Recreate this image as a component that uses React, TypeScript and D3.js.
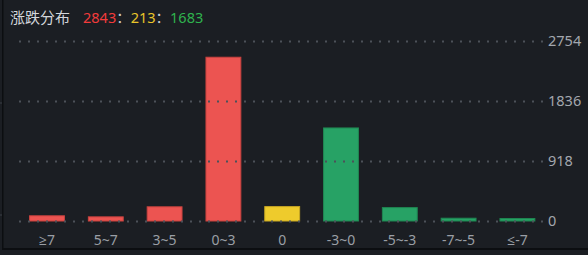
import React from "react";
import * as d3 from "d3";

const categories = ["≥7", "5~7", "3~5", "0~3", "0", "-3~0", "-5~-3", "-7~-5", "≤-7"];
const counts = [72, 56, 210, 2505, 213, 1420, 198, 35, 30];
const barKinds = ["up", "up", "up", "up", "flat", "down", "down", "down", "down"];
const yTicks = [0, 918, 1836, 2754];
const summaryUp = 2843;
const summaryFlat = 213;
const summaryDown = 1683;

const W = 588;
const H = 255;
const BG = "#1b1e23";
const fills: Record<string, string> = { up: "#ec5451", flat: "#eecb2c", down: "#27a265" };
const strokes: Record<string, string> = { up: "#c9433f", flat: "#c9a823", down: "#1f8752" };
const LATIN = "'Noto Sans', 'Open Sans', sans-serif";

export default function App() {
  const x = d3.scaleBand<string>().domain(categories).range([17.6, 546.8]).paddingInner(0.39).paddingOuter(0.195);
  const y = d3.scaleLinear().domain([0, 2754]).range([220.5, 41]);
  const bw = x.bandwidth();

  return (
    <svg
      width={W}
      height={H}
      style={{ position: "absolute", left: 0, top: 0, display: "block" }}
      fontFamily="'Noto Sans CJK SC', 'Noto Sans', sans-serif"
    >
      <rect x={0} y={0} width={W} height={H} fill={BG} />
      {/* frame edges */}
      <rect x={2} y={0} width={1.5} height={250} fill="#0c0e11" />
      <rect x={2} y={248} width={W - 2} height={2} fill="#0c0e11" />
      <rect x={0} y={102.5} width={2} height={1} fill="#3a3f47" />
      <rect x={0} y={214.5} width={2} height={1} fill="#3a3f47" />

      {/* title & summary */}
      <text x={10} y={23} fontSize={15} fill="#d4d7dc">涨跌分布</text>
      <text x={83} y={23} fontSize={14.5} fontFamily={LATIN}>
        <tspan fill="#f23b3b">{summaryUp}</tspan>
        <tspan fill="#c8cbd0" fontFamily="'Noto Sans CJK SC'">：</tspan>
        <tspan fill="#e8c52a">{summaryFlat}</tspan>
        <tspan fill="#c8cbd0" fontFamily="'Noto Sans CJK SC'">：</tspan>
        <tspan fill="#2fb34e">{summaryDown}</tspan>
      </text>

      {/* bars */}
      {categories.map((c, i) => {
        const top = y(counts[i]);
        return (
          <rect
            key={c}
            x={x(c)! + 0.5}
            y={top}
            width={bw - 1}
            height={221 - top}
            fill={fills[barKinds[i]]}
            stroke={strokes[barKinds[i]]}
            strokeWidth={1}
          />
        );
      })}

      {/* dotted grid */}
      {yTicks.map((t) => (
        <line
          key={t}
          x1={19}
          x2={546}
          y1={Math.round(y(t)) + 0.5}
          y2={Math.round(y(t)) + 0.5}
          stroke="#4c5159"
          strokeWidth={2}
          strokeDasharray="2,7"
        />
      ))}

      {/* right axis labels */}
      {yTicks.map((t) => (
        <text key={t} x={548} y={y(t) + 5} fontSize={14.5} fill="#a3a7ae" fontFamily={LATIN}>
          {t}
        </text>
      ))}

      {/* category labels */}
      {categories.map((c) => (
        <text
          key={c}
          x={x(c)! + bw / 2}
          y={244.5}
          fontSize={14}
          fill="#9a9ea5"
          textAnchor="middle"
          fontFamily={LATIN}
        >
          {c}
        </text>
      ))}
    </svg>
  );
}
